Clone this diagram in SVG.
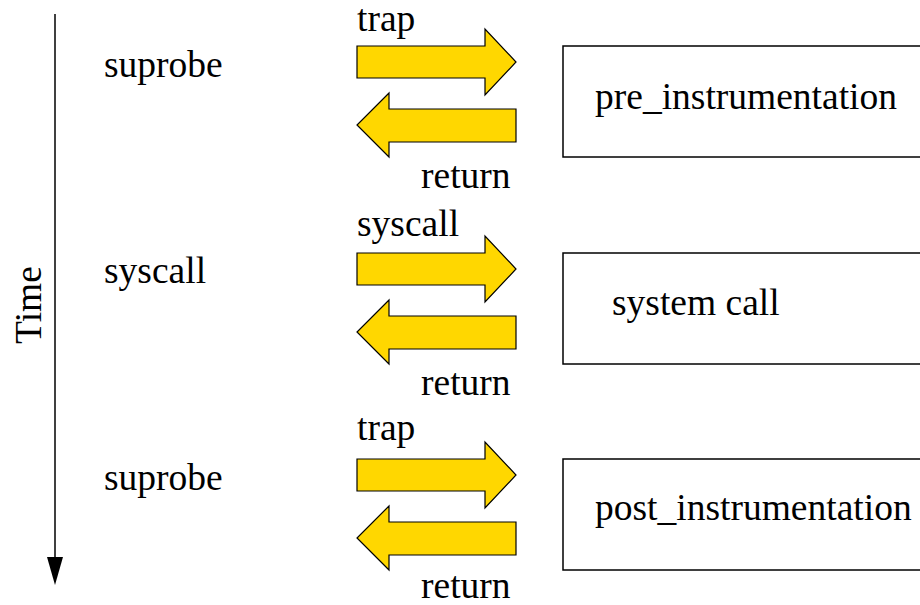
<svg xmlns="http://www.w3.org/2000/svg" width="920" height="605" viewBox="0 0 920 605">
  <style>
    text { font-size: 37.5px; fill: #000; }
    .arrow { fill: #FFD700; stroke: #000; stroke-width: 1.2; stroke-linejoin: miter; }
    .box { fill: #fff; stroke: #000; stroke-width: 1.5; }
  </style>
  <defs>
    <!-- block arrows pointing right (call) and left (return) -->
    <path id="arrowRight" d="M357,46 H485 V29 L516,62 L485,95 V78 H357 Z"/>
    <path id="arrowLeft" d="M516,109 H389 V93 L357,125 L389,157 V142 H516 Z"/>
  </defs>

  <g font-family="'Liberation Serif', 'DejaVu Serif', serif">
  <!-- time axis -->
  <g id="time-axis">
    <line x1="55" y1="14" x2="55" y2="560" stroke="#000" stroke-width="1.5"/>
    <polygon points="47,557 63,557 55,585" fill="#000"/>
    <text transform="translate(41,305) rotate(-90)" text-anchor="middle">Time</text>
  </g>

  <!-- phase labels -->
  <g id="phase-labels">
    <text x="104" y="77">suprobe</text>
    <text x="104" y="283">syscall</text>
    <text x="104" y="490">suprobe</text>
  </g>

  <!-- connectors: call / return block arrows -->
  <g id="connectors">
    <g id="pair-pre">
      <use href="#arrowRight" class="arrow"/>
      <use href="#arrowLeft" class="arrow"/>
      <text x="357" y="31">trap</text>
      <text x="421" y="188">return</text>
    </g>
    <g id="pair-syscall" transform="translate(0,207)">
      <use href="#arrowRight" class="arrow"/>
      <use href="#arrowLeft" class="arrow"/>
      <text x="357" y="29">syscall</text>
      <text x="421" y="188">return</text>
    </g>
    <g id="pair-post" transform="translate(0,413)">
      <use href="#arrowRight" class="arrow"/>
      <use href="#arrowLeft" class="arrow"/>
      <text x="357" y="27">trap</text>
      <text x="421" y="185">return</text>
    </g>
  </g>

  <!-- handler boxes -->
  <g id="pre_instrumentation">
    <rect class="box" x="563" y="46" width="370" height="111"/>
    <text x="595" y="109">pre_instrumentation</text>
  </g>
  <g id="system_call">
    <rect class="box" x="563" y="253" width="370" height="111"/>
    <text x="612" y="315">system call</text>
  </g>
  <g id="post_instrumentation">
    <rect class="box" x="563" y="459" width="370" height="111"/>
    <text x="595" y="520">post_instrumentation</text>
  </g>
  </g>
</svg>
